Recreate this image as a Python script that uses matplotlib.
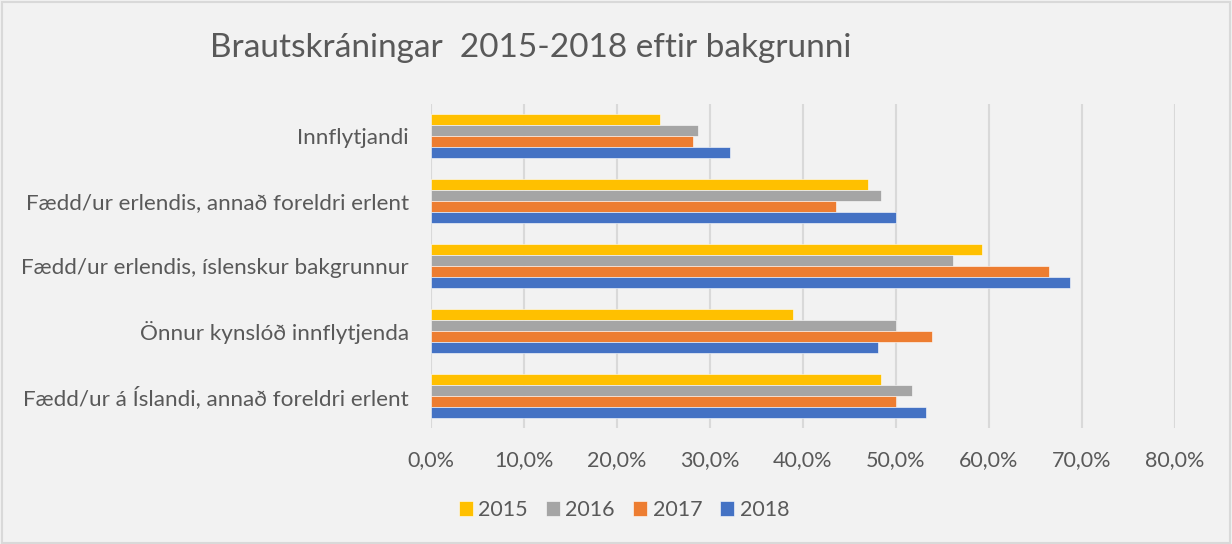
import matplotlib
matplotlib.use("Agg")
import matplotlib.pyplot as plt
import numpy as np
from matplotlib.patches import Rectangle

categories = [
    "Innflytjandi",
    "Fædd/ur erlendis, annað foreldri erlent",
    "Fædd/ur erlendis, íslenskur bakgrunnur",
    "Önnur kynslóð innflytjenda",
    "Fædd/ur á Íslandi, annað foreldri erlent",
]
years = ["2015", "2016", "2017", "2018"]
v2015 = [24.6, 47.0, 59.2, 38.9, 48.4]
v2016 = [28.7, 48.4, 56.1, 50.0, 51.7]
v2017 = [28.2, 43.5, 66.5, 53.9, 50.0]
v2018 = [32.2, 50.0, 68.7, 48.1, 53.2]
colors = ["#FFC000", "#A5A5A5", "#ED7D31", "#4472C4"]

plt.rcParams["font.family"] = ["Lato", "DejaVu Sans"]
bg = "#F2F2F2"
text_col = "#595959"

fig = plt.figure(figsize=(12.32, 5.44), dpi=100, facecolor=bg)
ax = fig.add_axes([0.3498, 0.2132, 0.6039, 0.5956], facecolor=bg)

y = np.arange(len(categories))
h = 0.17
series = [v2015, v2016, v2017, v2018]
for i, (vals, yr, c) in enumerate(zip(series, years, colors)):
    ax.barh(y + (i - 1.5) * h, vals, height=h, color=c, label=yr,
            edgecolor="white", linewidth=0.4)

ax.set_xlim(0, 80)
ax.set_ylim(4.5, -0.5)
ax.set_xticks(np.arange(0, 81, 10))
ax.set_xticklabels([f"{t:.1f}%".replace(".", ",") for t in range(0, 81, 10)])
ax.set_yticks(y)
ax.set_yticklabels(categories)
ax.tick_params(axis="x", length=0, labelsize=15.5, colors=text_col, pad=16)
ax.tick_params(axis="y", length=0, labelsize=16.2, colors=text_col, pad=16)
ax.grid(axis="x", color="#D9D9D9", linewidth=1.5)
ax.set_axisbelow(True)
for s in ax.spines.values():
    s.set_visible(False)

fig.text(0.431, 0.912, "Brautskráningar  2015-2018 eftir bakgrunni",
         ha="center", va="center", fontsize=24, color=text_col)

fig.legend(loc="center", bbox_to_anchor=(0.5065, 1 - 510 / 544), ncol=4,
           frameon=False, fontsize=15.5, handlelength=0.65, handleheight=0.65,
           handletextpad=0.25, columnspacing=0.85, labelcolor=text_col)

fig.patches.append(Rectangle((0.002, 0.002), 0.996, 0.994, transform=fig.transFigure,
                             fill=False, edgecolor="#D9D9D9", linewidth=1.5))

fig.savefig("out.png", dpi=100, facecolor=bg)
